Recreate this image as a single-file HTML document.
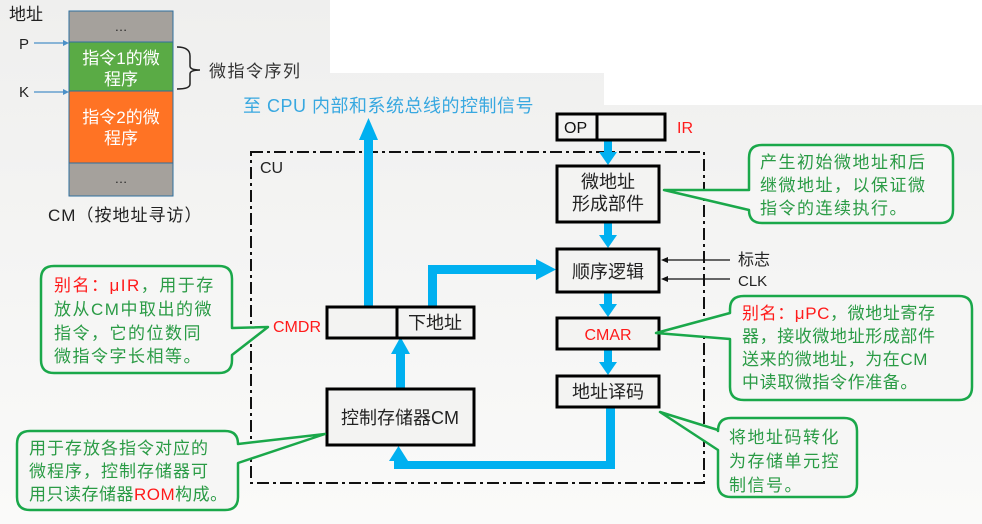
<!DOCTYPE html>
<html><head><meta charset="utf-8"><style>
html,body{margin:0;padding:0;background:#f3f3f2;}
svg{display:block;font-family:"Liberation Sans","Noto Sans CJK SC",sans-serif;}
</style></head><body>
<svg width="982" height="524" viewBox="0 0 982 524" xmlns="http://www.w3.org/2000/svg">
<defs>
<linearGradient id="bg" x1="0" y1="0" x2="0" y2="1"><stop offset="0" stop-color="#efefee"/><stop offset="1" stop-color="#fafaf9"/></linearGradient>
</defs>
<rect width="982" height="524" fill="url(#bg)"/>
<rect x="330" y="0" width="274" height="73" fill="#fff"/>
<rect x="604" y="0" width="378" height="105" fill="#fff"/>

<!-- left CM memory -->
<text x="9" y="20" font-size="17" fill="#222">地址</text>
<rect x="69" y="11" width="104" height="31" fill="#a5a19c" stroke="#2e6f9e" stroke-width="1"/>
<rect x="69" y="42" width="104" height="49" fill="#5aab45" stroke="#2e6f9e" stroke-width="1"/>
<rect x="69" y="91" width="104" height="72" fill="#ff7324" stroke="#2e6f9e" stroke-width="1"/>
<rect x="69" y="163" width="104" height="33" fill="#a5a19c" stroke="#2e6f9e" stroke-width="1"/>
<text x="121" y="31" font-size="13" fill="#222" text-anchor="middle">…</text>
<text x="121" y="183" font-size="13" fill="#222" text-anchor="middle">…</text>
<text x="121" y="64" font-size="17" fill="#fff" text-anchor="middle">指令1的微</text>
<text x="121" y="85" font-size="17" fill="#fff" text-anchor="middle">程序</text>
<text x="121" y="123" font-size="17" fill="#fff" text-anchor="middle">指令2的微</text>
<text x="121" y="144" font-size="17" fill="#fff" text-anchor="middle">程序</text>
<text x="19" y="49" font-size="15" fill="#222">P</text>
<text x="19" y="97" font-size="15" fill="#222">K</text>
<line x1="34" y1="43" x2="66" y2="43" stroke="#4a90c8" stroke-width="1.2"/><polygon points="69,43 63,40 63,46" fill="#4a90c8"/>
<line x1="34" y1="92" x2="66" y2="92" stroke="#4a90c8" stroke-width="1.2"/><polygon points="69,92 63,89 63,95" fill="#4a90c8"/>
<path d="M177,47 Q190,47 190,56 L190,66 Q190,70 200,70 Q190,70 190,74 L190,84 Q190,89 177,89" fill="none" stroke="#222" stroke-width="1.5"/>
<text x="209" y="77" font-size="17" letter-spacing="1.5" fill="#333">微指令序列</text>
<text x="48" y="221" font-size="17" letter-spacing="1" fill="#222">CM（按地址寻访）</text>

<text x="243" y="112" font-size="18" letter-spacing="0.5" fill="#38a8e0">至 CPU 内部和系统总线的控制信号</text>

<!-- CU dashed box -->
<rect x="251" y="152" width="453" height="331" fill="none" stroke="#111" stroke-width="2" stroke-dasharray="12,4,3,4"/>
<text x="260" y="173" font-size="16" fill="#222">CU</text>

<!-- blue arrows -->
<g fill="#00b0f0">
<rect x="364" y="138" width="9" height="169"/><polygon points="368.5,118 359,140 378,140"/>
<rect x="428" y="265" width="9" height="43"/><rect x="428" y="265" width="110" height="9"/><polygon points="556,269.5 536,259 536,280"/>
<rect x="396" y="352" width="9" height="37"/><polygon points="400.5,337 391,354 410,354"/>
<rect x="604" y="140" width="8" height="14"/><polygon points="608,165 599,152 617,152"/>
<rect x="604" y="222" width="8" height="14"/><polygon points="608,248 599,235 617,235"/>
<rect x="604" y="292" width="8" height="14"/><polygon points="608,317 599,304 617,304"/>
<rect x="604" y="349" width="8" height="15"/><polygon points="608,375 599,362 617,362"/>
<rect x="606" y="407" width="9" height="62"/><rect x="394" y="461" width="221" height="8"/><rect x="394" y="459" width="9" height="10"/><polygon points="398.5,446 389,461 408,461"/>
</g>

<!-- boxes -->
<g fill="#f3f3f2" stroke="#000" stroke-width="3">
<rect x="557" y="114" width="108" height="26"/>
<rect x="557" y="166" width="102" height="56"/>
<rect x="557" y="249" width="102" height="43"/>
<rect x="557" y="318" width="102" height="31"/>
<rect x="557" y="376" width="102" height="31"/>
<rect x="327" y="307" width="147" height="31"/>
<rect x="327" y="389" width="147" height="56"/>
</g>
<line x1="597" y1="114" x2="597" y2="140" stroke="#000" stroke-width="3"/>
<line x1="397" y1="307" x2="397" y2="338" stroke="#000" stroke-width="3"/>
<text x="564" y="133" font-size="16" fill="#111">OP</text>
<text x="677" y="133" font-size="16" fill="#ff1a1a">IR</text>
<text x="608" y="188" font-size="18" fill="#222" text-anchor="middle">微地址</text>
<text x="608" y="210" font-size="18" fill="#222" text-anchor="middle">形成部件</text>
<text x="608" y="278" font-size="18" fill="#222" text-anchor="middle">顺序逻辑</text>
<text x="608" y="340" font-size="16" fill="#ff1a1a" text-anchor="middle">CMAR</text>
<text x="608" y="398" font-size="18" fill="#222" text-anchor="middle">地址译码</text>
<text x="435" y="329" font-size="18" fill="#222" text-anchor="middle">下地址</text>
<text x="400" y="424" font-size="18" fill="#222" text-anchor="middle">控制存储器CM</text>
<text x="273" y="332" font-size="16" fill="#ff1a1a">CMDR</text>

<!-- 标志 CLK -->
<line x1="663" y1="260" x2="730" y2="260" stroke="#111" stroke-width="1.3"/><polygon points="661,260 668,257 668,263" fill="#111"/>
<line x1="663" y1="279" x2="730" y2="279" stroke="#111" stroke-width="1.3"/><polygon points="661,279 668,276 668,282" fill="#111"/>
<text x="738" y="265" font-size="16" fill="#222">标志</text>
<text x="738" y="286" font-size="15" fill="#222">CLK</text>

<!-- callouts -->
<g fill="#f6f6f5" stroke="#1aa84a" stroke-width="2.5" stroke-linejoin="round">
<path d="M762,145 H940 Q953,145 953,158 V210 Q953,223 940,223 H762 Q749,223 749,210 V210 L664,190 L749,190 V158 Q749,145 762,145 Z"/>
<path d="M744,296 H959 Q972,296 972,309 V387 Q972,400 959,400 H744 Q730,400 730,387 V339 L656,333 L730,313 V309 Q730,296 744,296 Z"/>
<path d="M731,418 H844 Q857,418 857,431 V484 Q857,497 844,497 H731 Q718,497 718,484 V450 L660,412 L718,430 V431 Q718,418 731,418 Z"/>
<path d="M54,266 H219 Q232,266 232,279 V328 L268,327 L232,355 V360 Q232,373 219,373 H54 Q41,373 41,360 V279 Q41,266 54,266 Z"/>
<path d="M30,431 H225 Q238,431 238,444 V444 L325,434 L238,463 V497 Q238,510 225,510 H30 Q17,510 17,497 V444 Q17,431 30,431 Z"/>
</g>
<g font-size="17" letter-spacing="1.5" fill="#2a9b45">
<text x="760" y="168">产生初始微地址和后</text>
<text x="760" y="191">继微地址，以保证微</text>
<text x="760" y="214">指令的连续执行。</text>
<text x="742" y="319" letter-spacing="0.6"><tspan fill="#ff1a1a">别名：μPC</tspan>，微地址寄存</text>
<text x="742" y="342" letter-spacing="0.6">器，接收微地址形成部件</text>
<text x="742" y="365" letter-spacing="0.6">送来的微地址，为在CM</text>
<text x="742" y="388" letter-spacing="0.6">中读取微指令作准备。</text>
<text x="729" y="443">将地址码转化</text>
<text x="729" y="467">为存储单元控</text>
<text x="729" y="491">制信号。</text>
<text x="54" y="291"><tspan fill="#ff1a1a">别名：μIR</tspan>，用于存</text>
<text x="54" y="315">放从CM中取出的微</text>
<text x="54" y="339">指令，它的位数同</text>
<text x="54" y="362">微指令字长相等。</text>
<text x="29" y="454" letter-spacing="1">用于存放各指令对应的</text>
<text x="29" y="477" letter-spacing="1">微程序，控制存储器可</text>
<text x="29" y="500" letter-spacing="0.5">用只读存储器<tspan fill="#ff1a1a">ROM</tspan>构成。</text>
</g>
</svg>
</body></html>
